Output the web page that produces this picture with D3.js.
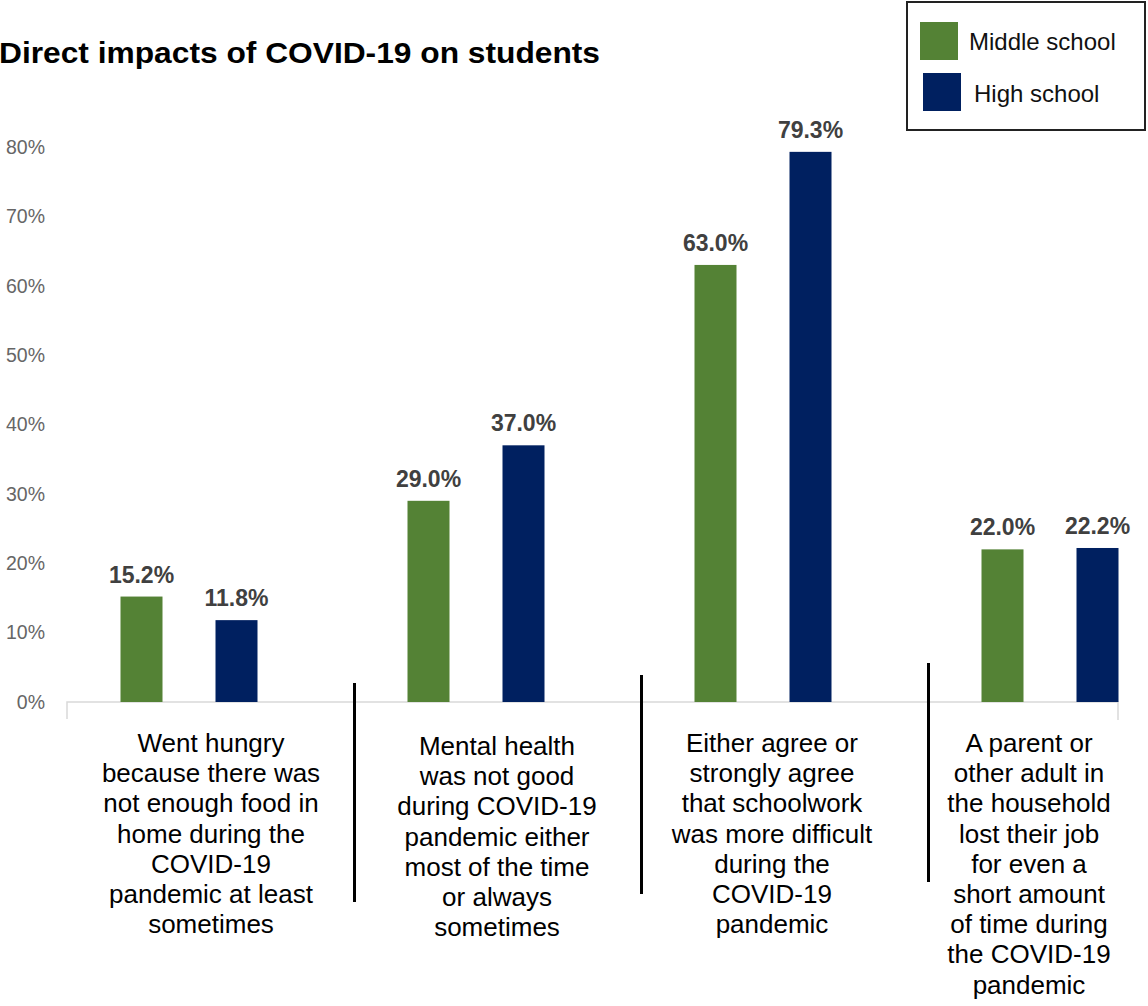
<!DOCTYPE html>
<html>
<head>
<meta charset="utf-8">
<script src="https://cdn.jsdelivr.net/npm/d3@7/dist/d3.min.js"></script>
<style>
  html, body { margin: 0; padding: 0; background: #fff; }
  svg { display: block; font-family: "Liberation Sans", Arial, sans-serif; }
</style>
</head>
<body>
<svg id="chart" width="1148" height="1006"></svg>
<script>
// ---- data ----
const categories = ["hungry", "mental", "schoolwork", "job"];
const categoryLabels = [
  ["Went hungry", "because there was", "not enough food in", "home during the", "COVID-19", "pandemic at least", "sometimes"],
  ["Mental health", "was not good", "during COVID-19", "pandemic either", "most of the time", "or always", "sometimes"],
  ["Either agree or", "strongly agree", "that schoolwork", "was more difficult", "during the", "COVID-19", "pandemic"],
  ["A parent or", "other adult in", "the household", "lost their job", "for even a", "short amount", "of time during", "the COVID-19", "pandemic"]
];
const seriesNames = ["Middle school", "High school"];
const middleSchool = [15.2, 29.0, 63.0, 22.0];
const highSchool = [11.8, 37.0, 79.3, 22.2];
const yTicks = [0, 10, 20, 30, 40, 50, 60, 70, 80];
const title = "Direct impacts of COVID-19 on students";

// ---- layout / style ----
const colors = ["#548235", "#002060"];
const barW = 42;
const labelDx = [22, 21, 9, -21];
const sepTops = [683, 675, 663];
const sepLen = 219;

const svg = d3.select("#chart");

const x0 = d3.scaleBand().domain(categories).range([45.5, 1193.5]).padding(0);
const x1 = d3.scalePoint().domain(seriesNames).range([-47.5, 47.5]);
const y = d3.scaleLinear().domain([0, 80]).range([702, 147]);

const seriesValues = [middleSchool, highSchool];
const mid = c => x0(c) + x0.bandwidth() / 2;

// title
svg.append("text")
  .attr("x", -1).attr("y", 63)
  .attr("font-size", 30).attr("font-weight", "bold").attr("fill", "#000")
  .attr("textLength", 601).attr("lengthAdjust", "spacingAndGlyphs")
  .text(title);

// y axis labels
const yAxis = d3.axisLeft(y).tickValues(yTicks).tickFormat(d => d + "%").tickSize(0).tickPadding(0);
const gy = svg.append("g").attr("transform", "translate(45,0)").call(yAxis);
gy.select(".domain").remove();
gy.selectAll("text").attr("font-size", 19.5).attr("fill", "#666666")
  .attr("font-family", "'Liberation Sans', Arial, sans-serif");

// x axis line
svg.append("path")
  .attr("d", d3.line()([[67, 719], [67, 702], [1118, 702], [1118, 720]]))
  .attr("fill", "none").attr("stroke", "#d9d9d9").attr("stroke-width", 1.5);

// bars
seriesNames.forEach((s, si) => {
  const g = svg.append("g");
  const vals = seriesValues[si];
  g.selectAll("rect").data(categories).join("rect")
    .attr("x", (c) => mid(c) + x1(s) - barW / 2)
    .attr("y", (c, i) => y(vals[i]))
    .attr("width", barW)
    .attr("height", (c, i) => y(0) - y(vals[i]))
    .attr("fill", colors[si]);
  g.selectAll("text").data(categories).join("text")
    .attr("x", (c) => mid(c) + x1(s))
    .attr("y", (c, i) => y(vals[i]) - 14)
    .attr("text-anchor", "middle")
    .attr("font-size", 23).attr("font-weight", "bold").attr("fill", "#404040")
    .text((c, i) => vals[i].toFixed(1) + "%");
});

// category labels
categories.forEach((c, i) => {
  const t = svg.append("text")
    .attr("text-anchor", "middle")
    .attr("font-size", 26).attr("fill", "#000");
  categoryLabels[i].forEach((line, li) => {
    t.append("tspan")
      .attr("x", mid(c) + labelDx[i])
      .attr("y", 752 + (i === 1 ? 3 : 0) + li * 30.2)
      .text(line);
  });
});

// separators
categories.slice(1).forEach((c, i) => {
  svg.append("line")
    .attr("x1", x0(c) + 22).attr("x2", x0(c) + 22)
    .attr("y1", sepTops[i]).attr("y2", sepTops[i] + sepLen)
    .attr("stroke", "#000").attr("stroke-width", 3);
});

// legend
const lg = svg.append("g");
lg.append("rect").attr("x", 907).attr("y", 2).attr("width", 238).attr("height", 128)
  .attr("fill", "#fff").attr("stroke", "#222").attr("stroke-width", 2);
const swatchX = [920, 923], swatchY = [22, 73], textX = [969, 974], textY = [50, 102];
seriesNames.forEach((s, i) => {
  lg.append("rect").attr("x", swatchX[i]).attr("y", swatchY[i]).attr("width", 38).attr("height", 38)
    .attr("fill", colors[i]);
  lg.append("text").attr("x", textX[i]).attr("y", textY[i])
    .attr("font-size", 24).attr("fill", "#111").text(s);
});
</script>
</body>
</html>
